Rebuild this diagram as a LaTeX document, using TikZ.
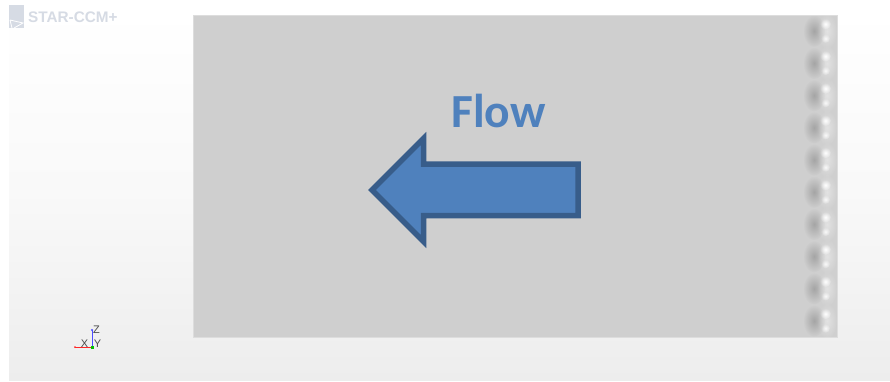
\documentclass[tikz,border=0pt]{standalone}
\usepackage{fontspec}
\setmainfont{Liberation Sans}
\newfontfamily\flowfont{Carlito}
\usetikzlibrary{fadings}
\definecolor{panelgray}{HTML}{CFCFCF}
\definecolor{flowblue}{HTML}{4F81BD}
\definecolor{flowedge}{HTML}{385D8A}
\definecolor{logogray}{HTML}{D6DBE4}
\definecolor{bglow}{HTML}{EDEDED}
\tikzfading[name=softspot, inner color=transparent!0, outer color=transparent!100]
\tikzset{
  x=1pt, y=-1pt,
  panel/.style={fill=panelgray, draw=panelgray!70!white, line width=0.5pt},
  flowarrow/.style={fill=flowblue, draw=flowedge, line width=5.5pt, miter limit=10},
  flowtext/.style={font=\flowfont\bfseries\fontsize{47.5}{47.5}\selectfont, text=flowblue, inner sep=0pt},
  logotext/.style={font=\bfseries\fontsize{15.3}{15.3}\selectfont, text=logogray, inner sep=0pt, anchor=west},
  axislabel/.style={font=\fontsize{11}{11}\selectfont, text=black!70, inner sep=0pt},
  axisline/.style={line width=0.9pt},
  spot/.style={path fading=softspot},
}
\newcommand{\bump}[1]{%
  \fill[spot, fill=black!60, fill opacity=0.4] (814,#1) ellipse (11 and 16);
  \fill[spot, fill=white, fill opacity=0.4] (827,#1) ellipse (10 and 18);
  \fill[spot, fill=white] (825.5,#1-7) circle (5.5);
  \fill[spot, fill=white, fill opacity=0.85] (825.5,#1+7.5) circle (4.5);
}
\begin{document}
\begin{tikzpicture}
\useasboundingbox (0,0) rectangle (890,381);
\fill[white] (0,0) rectangle (890,381);
\shade[top color=white, bottom color=bglow, middle color=white!65!bglow] (9,10) rectangle (890,380);
\fill[white] (0,0) rectangle (9,381);
% logo
\fill[logogray] (9,5) rectangle (24,28);
\draw[white, line width=0.8pt] (10,20) -- (23,23) -- (14,28) (12,28) -- (10,20);
\node[logotext] (logo) at (28,17.5) {STAR-CCM+};
% panel
\path[panel] (193,15) rectangle (837,337);
% bumps
\foreach \yy in {31,63.2,95.4,127.6,159.8,192,224.2,256.4,288.6,320.8} {\bump{\yy}}
% arrow
\path[flowarrow] (372,190) -- (423.5,138.5) -- (423.5,164) -- (578,164) -- (578,215.5) -- (423.5,215.5) -- (423.5,241.5) -- cycle;
\node[flowtext] (flow) at (498.5,111) {Flow};
% triad
\coordinate (origin) at (92,347);
\coordinate (xend) at (75,347);
\coordinate (zend) at (92,330);
\draw[axisline, red!85!white] (origin) -- (xend);
\draw[axisline, blue!70!white] (origin) -- (zend);
\fill[green!75!black] (90.5,345.5) rectangle (93.5,348.5);
\fill[red!85!white] (xend) circle (1);
\fill[blue!70!white] (zend) circle (1.2);
\node[axislabel] (labx) at (84.5,343.5) {X};
\node[axislabel] (labz) at (96.5,330) {Z};
\node[axislabel] (laby) at (97.5,344) {Y};
\end{tikzpicture}
\end{document}
